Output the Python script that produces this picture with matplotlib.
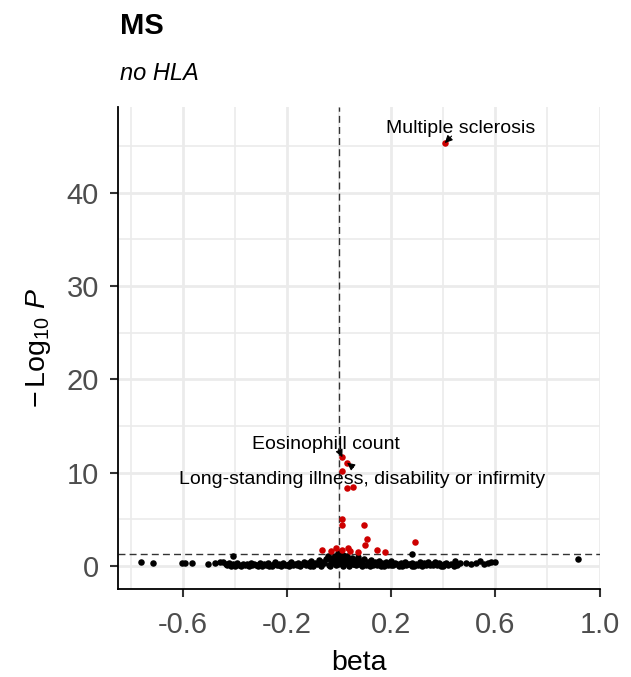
import matplotlib
matplotlib.use('Agg')
import matplotlib.pyplot as plt

plt.rcParams['font.family'] = ['Liberation Sans', 'DejaVu Sans']
plt.rcParams['mathtext.fontset'] = 'custom'
plt.rcParams['mathtext.rm'] = 'Liberation Sans'
plt.rcParams['mathtext.it'] = 'Liberation Sans:italic'

TITLE = 'MS'
SUBTITLE = 'no HLA'
P_CUTOFF = 1.301  # -log10(0.05)

# non-significant associations (black)
ns_beta = [
    -0.761, -0.713, -0.604, -0.590, -0.563, -0.504, -0.476, -0.455, -0.445, -0.432, -0.408,
    -0.428, -0.421, -0.414, -0.405, -0.398, -0.391, -0.383, -0.376, -0.369, -0.361, -0.354,
    -0.347, -0.339, -0.332, -0.325, -0.317, -0.309, -0.302, -0.295, -0.288, -0.281, -0.273,
    -0.266, -0.258, -0.251, -0.244, -0.237, -0.229, -0.222, -0.214, -0.207, -0.199, -0.192,
    -0.185, -0.178, -0.170, -0.163, -0.156, -0.149, -0.141, -0.134, -0.127, -0.120, -0.113,
    -0.106, -0.099, -0.092, -0.085, -0.078, -0.071, -0.064, -0.057, -0.050, -0.044, -0.038,
    -0.032, -0.026, -0.020, -0.014, -0.008, -0.003, 0.002, 0.007, 0.012, 0.017, 0.022,
    0.027, 0.032, 0.037, 0.043, 0.048, 0.054, 0.060, 0.066, 0.072, 0.078, 0.084, 0.090,
    0.096, 0.103, 0.110, 0.117, 0.124, 0.131, 0.138, 0.145, 0.152, 0.159, 0.166, 0.173,
    0.180, 0.187, 0.194, 0.201, 0.208, 0.215, 0.222, 0.230, 0.237, 0.244, 0.252, 0.259,
    0.266, 0.274, 0.281, 0.289, 0.296, 0.304, 0.311, 0.319, 0.327, 0.334, 0.342, 0.350,
    0.358, 0.367, 0.375, 0.384, 0.393, 0.402, 0.411, 0.420, 0.430, 0.444, 0.452, 0.466,
    0.489, 0.505, 0.525, 0.540, 0.556, 0.572, 0.585, 0.597, 0.919, 0.282,
    -0.400, -0.350, -0.310, -0.270, -0.230, -0.190, -0.150, -0.110, -0.070, -0.035, -0.010,
    0.015, 0.040, 0.065, 0.090, 0.120, 0.160, 0.200, 0.240, 0.280, 0.320, 0.360, 0.400, 0.440,
    -0.005, 0.005, 0.020, -0.016, 0.030, 0.010, -0.024, 0.046, 0.058,
]
ns_logp = [
    0.46, 0.35, 0.35, 0.33, 0.32, 0.18, 0.29, 0.46, 0.38, 0.22, 1.10,
    0.12, 0.31, 0.05, 0.20, 0.09, 0.36, 0.14, 0.03, 0.25, 0.10, 0.18,
    0.04, 0.30, 0.12, 0.21, 0.07, 0.15, 0.34, 0.02, 0.19, 0.09, 0.27,
    0.13, 0.05, 0.22, 0.38, 0.11, 0.17, 0.03, 0.29, 0.14, 0.08, 0.24,
    0.41, 0.06, 0.19, 0.12, 0.33, 0.04, 0.22, 0.47, 0.10, 0.28, 0.16,
    0.52, 0.05, 0.35, 0.20, 0.61, 0.11, 0.42, 0.27, 0.74, 1.10, 0.15,
    0.55, 0.88, 0.33, 1.05, 0.62, 0.20, 1.25, 0.45, 0.90, 1.18, 0.30,
    0.70, 1.02, 0.12, 0.58, 0.85, 0.25, 0.66, 0.40, 0.92, 0.18, 0.55, 0.33,
    0.78, 0.09, 0.46, 0.28, 0.62, 0.14, 0.38, 0.07, 0.52, 0.22, 0.33, 0.05,
    0.44, 0.16, 0.28, 0.58, 0.10, 0.35, 0.20, 0.04, 0.30, 0.13, 0.42, 0.08,
    0.25, 0.17, 0.36, 0.03, 0.22, 0.12, 0.47, 0.06, 0.28, 0.15, 0.38, 0.09,
    0.24, 0.40, 0.11, 0.30, 0.05, 0.20, 0.35, 0.12, 0.26, 0.57, 0.15, 0.30,
    0.29, 0.21, 0.35, 0.57, 0.25, 0.29, 0.40, 0.46, 0.72, 1.29,
    0.01, 0.06, 0.01, 0.02, 0.07, 0.01, 0.09, 0.02, 0.05, 0.02, 0.08,
    0.03, 0.02, 0.06, 0.01, 0.04, 0.02, 0.06, 0.01, 0.05, 0.02, 0.07, 0.03, 0.02,
    1.40, 0.80, 0.50, 0.95, 0.40, 0.25, 0.45, 0.30, 0.20,
]

# significant associations (red)
sig_beta = [0.406, 0.013, 0.031, 0.012, 0.029, 0.052, 0.010, 0.010, 0.096, 0.108, 0.099,
            0.293, -0.067, -0.031, -0.010, 0.010, 0.035, 0.044, 0.071, 0.144, 0.178]
sig_logp = [45.3, 11.65, 11.07, 10.18, 8.33, 8.50, 5.00, 4.39, 4.39, 2.86, 2.25,
            2.60, 1.71, 1.64, 1.90, 1.71, 1.90, 1.64, 1.53, 1.71, 1.53]

# labelled traits: text, text position, point it points at
label_text = ['Multiple sclerosis', 'Eosinophill count',
              'Long-standing illness, disability or infirmity']
label_xy = [(0.466, 46.4), (-0.049, 12.5), (0.089, 8.79)]
label_point = [(0.406, 45.3), (0.013, 11.65), (0.031, 11.07)]
arrow_start = [(0.432, 46.05), (-0.002, 12.55), (0.055, 10.55)]

x_ticks = [-0.6, -0.2, 0.2, 0.6, 1.0]
x_minor = [-0.8, -0.4, 0.0, 0.4, 0.8]
y_ticks = [0, 10, 20, 30, 40]
y_minor = [5, 15, 25, 35, 45]

fig = plt.figure(figsize=(6.31, 6.77), dpi=100)
ax = fig.add_axes([0.1875, 0.1307, 0.951 - 0.1875, 0.8424 - 0.1307])

grid_col = '#EBEBEB'
for v in x_minor:
    ax.axvline(v, color=grid_col, lw=1.2, zorder=0)
for v in y_minor:
    ax.axhline(v, color=grid_col, lw=1.2, zorder=0)
for v in x_ticks:
    ax.axvline(v, color=grid_col, lw=2.0, zorder=0)
for v in y_ticks:
    ax.axhline(v, color=grid_col, lw=2.0, zorder=0)

ax.axvline(0, color='#333333', lw=1.0, ls=(0, (5, 3)), zorder=1)
ax.axhline(P_CUTOFF, color='#333333', lw=1.0, ls=(0, (5, 3)), zorder=1)

ax.scatter(ns_beta, ns_logp, s=22, color='black', linewidths=0, zorder=2)
ax.scatter(sig_beta, sig_logp, s=22, color='#CD0000', linewidths=0, zorder=3)

for txt, pos, pt, st in zip(label_text, label_xy, label_point, arrow_start):
    ax.text(pos[0], pos[1], txt, ha='center', va='baseline', fontsize=14,
            color='black', zorder=5)
    ax.annotate('', xy=pt, xytext=st,
                arrowprops=dict(arrowstyle='-|>,head_length=0.45,head_width=0.22',
                                color='black', lw=0.8, shrinkA=0, shrinkB=0),
                zorder=4)

ax.set_xlim(-0.847, 1.002)
ax.set_ylim(-2.41, 49.2)
ax.set_xticks(x_ticks)
ax.set_xticklabels(['-0.6', '-0.2', '0.2', '0.6', '1.0'])
ax.set_yticks(y_ticks)

for side in ['top', 'right']:
    ax.spines[side].set_visible(False)
for side in ['left', 'bottom']:
    ax.spines[side].set_linewidth(1.3)
    ax.spines[side].set_color('black')

ax.tick_params(axis='both', labelsize=21, labelcolor='#4D4D4D', color='#333333',
               width=1.5, length=6)
ax.tick_params(axis='x', pad=10)
ax.tick_params(axis='y', pad=8)

ax.set_xlabel('beta', fontsize=20.5, labelpad=8)
ax.set_ylabel(r'$-\,\mathrm{Log}_{10}\ \mathit{P}$', fontsize=20.5, labelpad=10)

fig.text(120 / 631, 1 - 34 / 677, TITLE, fontsize=21, fontweight='bold',
         ha='left', va='baseline')
fig.text(120 / 631, 1 - 80 / 677, SUBTITLE, fontsize=17, fontstyle='italic',
         ha='left', va='baseline')

fig.savefig('out.png', dpi=100)
